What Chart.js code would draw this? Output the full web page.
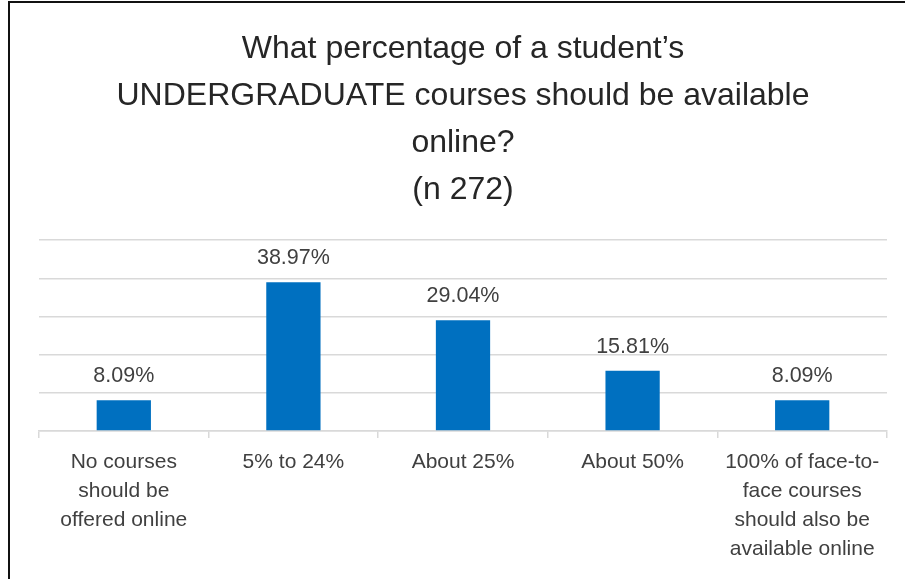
<!DOCTYPE html>
<html>
<head>
<meta charset="utf-8">
<script src="https://cdn.jsdelivr.net/npm/chart.js@4"></script>
<style>
  html, body { margin:0; padding:0; background:#fff; }
  body { width:905px; height:579px; position:relative; overflow:hidden; }
  .frame { position:absolute; left:8px; top:1px; width:905px; height:590px; border-left:2px solid #111; border-top:2px solid #111; }
  #wrap { position:absolute; left:0; top:0; width:905px; height:579px; }
</style>
</head>
<body>
<div class="frame"></div>
<div id="wrap"><canvas id="chart"></canvas></div>
<script>
// ── DATA ─────────────────────────────────────────────────────────
const titleLines = ['What percentage of a student\u2019s', 'UNDERGRADUATE courses should be available', 'online?', '(n 272)'];
const categories = [
  ['No courses', 'should be', 'offered online'],
  ['5% to 24%'],
  ['About 25%'],
  ['About 50%'],
  ['100% of face-to-', 'face courses', 'should also be', 'available online']
];
const values = [8.09, 38.97, 29.04, 15.81, 8.09];

const FONT = "'Liberation Sans', Arial, sans-serif";
const TXT = '#404040', GRID = '#d9d9d9', BLUE = '#0070c0';

// value labels above each bar
const barLabels = {
  id: 'barLabels',
  afterDatasetsDraw(chart) {
    const ctx = chart.ctx, meta = chart.getDatasetMeta(0);
    ctx.save();
    ctx.font = '21.5px ' + FONT;
    ctx.fillStyle = TXT;
    ctx.textAlign = 'center';
    ctx.textBaseline = 'middle';
    meta.data.forEach((bar, i) => {
      ctx.fillText(values[i].toFixed(2) + '%', bar.x, bar.y - 24);
    });
    ctx.restore();
  }
};

new Chart(document.getElementById('chart'), {
  type: 'bar',
  data: { labels: categories, datasets: [{ data: values, backgroundColor: BLUE, borderWidth: 0, barPercentage: 0.4, categoryPercentage: 0.8 }] },
  plugins: [barLabels],
  options: {
    responsive: true, maintainAspectRatio: false, animation: false,
    layout: { padding: { left: 39, right: 18, top: 26, bottom: 6 } },
    plugins: {
      legend: { display: false },
      tooltip: { enabled: false },
      title: { display: true, text: titleLines, color: '#262626', font: { family: FONT, size: 32, weight: 'normal', lineHeight: 1.47 }, padding: { top: 0, bottom: 26 } }
    },
    scales: {
      y: {
        min: 0, max: 50,
        ticks: { display: false, stepSize: 10 },
        border: { display: false },
        grid: { color: GRID, lineWidth: 1.5, drawTicks: false },
        afterFit: s => { s.width = 0; }
      },
      x: {
        border: { display: true, color: GRID, width: 1.5 },
        grid: { drawOnChartArea: false, drawTicks: true, tickLength: 7, color: GRID, lineWidth: 1.5 },
        ticks: { color: TXT, padding: 9.5, maxRotation: 0, autoSkip: false, font: { family: FONT, size: 21, lineHeight: 1.38 } }
      }
    }
  }
});
</script>
</body>
</html>
